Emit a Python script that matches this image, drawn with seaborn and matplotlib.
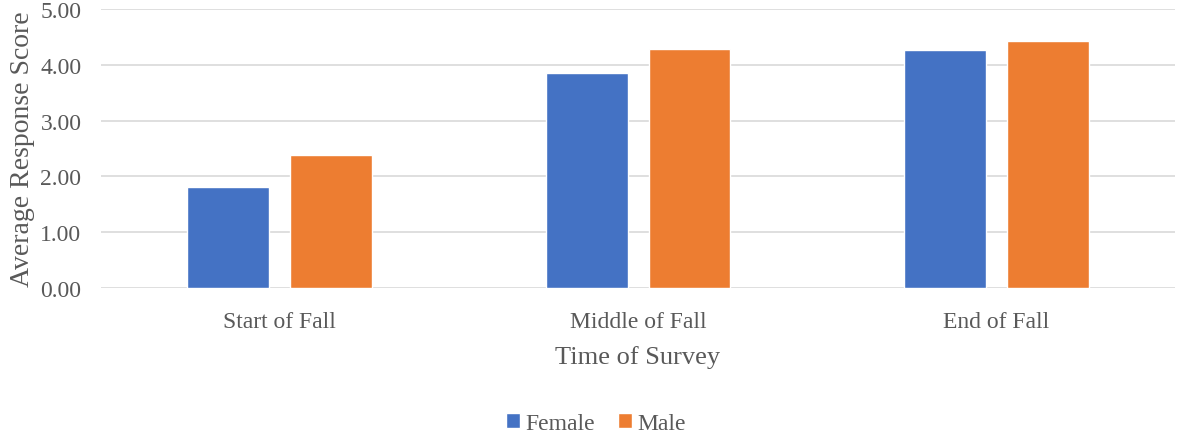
import pandas as pd
import matplotlib.pyplot as plt
import seaborn as sns

# Data
times = ['Start of Fall', 'Middle of Fall', 'End of Fall']
female = [1.81, 3.85, 4.26]
male = [2.38, 4.28, 4.42]

df = pd.DataFrame({
    'Time of Survey': times * 2,
    'Score': female + male,
    'Gender': ['Female'] * 3 + ['Male'] * 3,
})

sns.set_style('white')
plt.rcParams['font.family'] = ['Liberation Serif', 'DejaVu Serif']

fig = plt.figure(figsize=(11.87, 4.35), dpi=100)
ax = fig.add_axes([0.085, 0.336, 0.905, 0.641])

sns.barplot(data=df, x='Time of Survey', y='Score', hue='Gender',
            palette=['#4472C4', '#ED7D31'], width=0.575, gap=0.204,
            saturation=1, ax=ax, zorder=3)

ax.set_ylim(0, 5)
ax.set_yticks([0, 1, 2, 3, 4, 5])
ax.set_yticklabels([f'{v:.2f}' for v in [0, 1, 2, 3, 4, 5]])
ax.yaxis.grid(True, color='#D9D9D9', linewidth=1.2, zorder=0)
ax.set_axisbelow(True)
for s in ax.spines.values():
    s.set_visible(False)

ax.tick_params(axis='both', colors='#595959', labelsize=17, length=0)
ax.tick_params(axis='x', pad=17)
ax.tick_params(axis='y', pad=14)
ax.set_xlabel('Time of Survey', fontsize=19, color='#595959', labelpad=9)
ax.set_ylabel('Average Response Score', fontsize=20, color='#595959', labelpad=4)

ax.get_legend().remove()
handles, labels = ax.get_legend_handles_labels()
fig.legend(handles, labels, loc='center', bbox_to_anchor=(0.502, 0.024), ncol=2,
           frameon=False, fontsize=17, labelcolor='#595959', handlelength=0.6,
           handleheight=0.6, handletextpad=0.2, columnspacing=1.0)

plt.savefig('out.png', dpi=100)
